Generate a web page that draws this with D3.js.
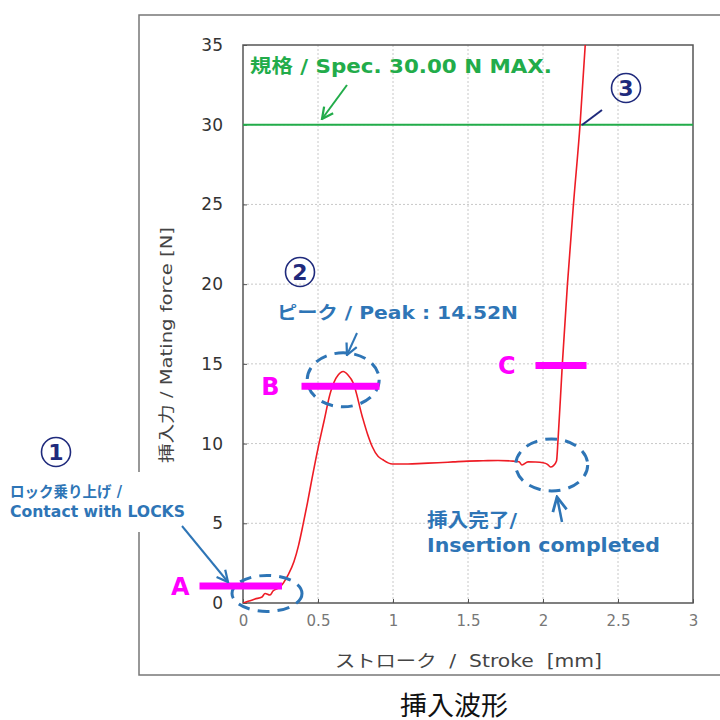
<!DOCTYPE html>
<html>
<head>
<meta charset="utf-8">
<script src="https://cdn.jsdelivr.net/npm/d3@7"></script>
<style>
  body { margin: 0; background: #fff; }
  text { font-family: "DejaVu Sans", "Noto Sans CJK JP", sans-serif; }
</style>
</head>
<body>
<div id="chart"></div>
<script>
// insertion waveform: stroke [mm] vs mating force [N]
const stroke = [0, 0.04, 0.08, 0.127, 0.147, 0.18, 0.2, 0.247, 0.3, 0.34, 0.37, 0.4, 0.43, 0.46, 0.5, 0.54, 0.58, 0.62, 0.65, 0.668, 0.7, 0.735, 0.795, 0.83, 0.862, 0.9, 0.93, 0.995, 1.1, 1.2, 1.3, 1.4, 1.5, 1.6, 1.7, 1.8, 1.84, 1.86, 1.9, 1.95, 2.0, 2.03, 2.05, 2.07, 2.09, 2.1, 2.129, 2.163, 2.203, 2.247, 2.285];
const force  = [0, 0.12, 0.25, 0.38, 0.6, 0.5, 0.75, 1.0, 1.75, 2.6, 3.6, 4.9, 6.3, 7.8, 9.7, 11.4, 13.1, 14.1, 14.45, 14.52, 14.3, 13.8, 11.7, 10.6, 9.8, 9.2, 9.0, 8.72, 8.72, 8.76, 8.8, 8.85, 8.9, 8.92, 8.94, 8.9, 8.86, 8.66, 8.85, 8.84, 8.8, 8.7, 8.53, 8.62, 8.9, 10.2, 15, 20, 25, 30, 35.5];

const xTicks = [0, 0.5, 1, 1.5, 2, 2.5, 3];
const yTicks = [0, 5, 10, 15, 20, 25, 30, 35];
const specLimit = 30;

// check points A / B / C
const markerNames = ["A", "B", "C"];
const markerForce = [1.07, 13.6, 14.9];
const markerFrom = [-0.29, 0.39, 1.95];
const markerTo = [0.26, 0.91, 2.29];

// dashed circles (center in data units)
const ringStroke = [0.16, 0.668, 2.058];
const ringForce = [0.6, 14.0, 8.66];

const w = 720, h = 720;
const blue = "#2e75b6", navy = "#1f2a7c", green = "#22ac4a", magenta = "#ff00ff";

const xScale = d3.scaleLinear().domain([0, 3]).range([243, 693]);
const yScale = d3.scaleLinear().domain([0, 35]).range([603, 45]);

const svg = d3.select("#chart").append("svg")
  .attr("width", w).attr("height", h);

const defs = svg.append("defs");
defs.append("clipPath").attr("id", "plotClip")
  .append("rect").attr("x", 243).attr("y", 45).attr("width", 450).attr("height", 558);
function arrowHead(id, color) {
  defs.append("marker").attr("id", id)
    .attr("viewBox", "0 0 10 10").attr("refX", 9).attr("refY", 5)
    .attr("markerWidth", 7).attr("markerHeight", 7).attr("orient", "auto")
    .append("path").attr("d", "M1,1 L9,5 L1,9")
    .attr("fill", "none").attr("stroke", color).attr("stroke-width", 1.6);
}
arrowHead("arrGreen", green);
arrowHead("arrBlue", blue);

// fixed-width text helper
function label(x, y, size, color, str, len) {
  const t = svg.append("text").attr("x", x).attr("y", y)
    .attr("font-size", size).attr("font-weight", "bold").attr("fill", color).text(str);
  if (len) t.attr("textLength", len).attr("lengthAdjust", "spacingAndGlyphs");
  return t;
}

// outer frame
svg.append("rect").attr("x", 139).attr("y", 15).attr("width", 600).attr("height", 660)
  .attr("fill", "none").attr("stroke", "#777").attr("stroke-width", 1.5);

// grid
svg.append("g").selectAll("line").data(xTicks.slice(1, -1)).enter().append("line")
  .attr("x1", d => xScale(d)).attr("x2", d => xScale(d))
  .attr("y1", yScale(0)).attr("y2", yScale(35))
  .attr("stroke", "#c8c8c8").attr("stroke-dasharray", "2,2");
svg.append("g").selectAll("line").data(yTicks.slice(1, -1)).enter().append("line")
  .attr("x1", xScale(0)).attr("x2", xScale(3))
  .attr("y1", d => yScale(d)).attr("y2", d => yScale(d))
  .attr("stroke", "#c8c8c8").attr("stroke-dasharray", "2,2");

// axes
const xAxis = d3.axisBottom(xScale).tickValues(xTicks).tickSize(-4).tickPadding(12).tickFormat(d3.format("~g"));
const yAxis = d3.axisLeft(yScale).tickValues(yTicks).tickSize(-4).tickPadding(20);
const gx = svg.append("g").attr("transform", "translate(0," + yScale(0) + ")").call(xAxis);
const gy = svg.append("g").attr("transform", "translate(" + xScale(0) + ",0)").call(yAxis);
gx.select(".domain").remove();
gy.select(".domain").remove();
gx.selectAll("line").attr("stroke", "#555");
gy.selectAll("line").attr("stroke", "#555");
gx.selectAll("text").attr("font-size", 15).attr("fill", "#777")
  .style("font-family", "'DejaVu Sans', sans-serif");
gy.selectAll("text").attr("font-size", 17).attr("fill", "#333")
  .style("font-family", "'DejaVu Sans', sans-serif");

svg.append("rect").attr("x", xScale(0)).attr("y", yScale(35))
  .attr("width", xScale(3) - xScale(0)).attr("height", yScale(0) - yScale(35))
  .attr("fill", "none").attr("stroke", "#555").attr("stroke-width", 1.5);

// spec limit
svg.append("line").attr("x1", xScale(0)).attr("x2", xScale(3))
  .attr("y1", yScale(specLimit)).attr("y2", yScale(specLimit))
  .attr("stroke", green).attr("stroke-width", 2);

// waveform
const line = d3.line().x((d, i) => xScale(stroke[i])).y(d => yScale(d)).curve(d3.curveMonotoneX);
svg.append("path").datum(force)
  .attr("clip-path", "url(#plotClip)")
  .attr("d", line).attr("fill", "none")
  .attr("stroke", "#ee1c25").attr("stroke-width", 1.6);

// axis titles
svg.append("text").attr("x", 335).attr("y", 667)
  .attr("font-size", 17).attr("fill", "#444").style("white-space", "pre")
  .attr("textLength", 267).attr("lengthAdjust", "spacingAndGlyphs")
  .text("ストローク  /  Stroke  [mm]");
svg.append("text").attr("transform", "translate(172,463) rotate(-90)")
  .attr("font-size", 16).attr("fill", "#444")
  .attr("textLength", 236).attr("lengthAdjust", "spacingAndGlyphs")
  .text("挿入力 / Mating force [N]");

// caption
svg.append("text").attr("x", 400).attr("y", 715)
  .attr("font-size", 26).attr("fill", "#111")
  .attr("textLength", 108).attr("lengthAdjust", "spacingAndGlyphs").text("挿入波形");

// dashed rings
const ringRx = [35, 36, 36], ringRy = [18, 27, 26];
svg.append("g").selectAll("ellipse").data(ringStroke).enter().append("ellipse")
  .attr("cx", (d, i) => xScale(d)).attr("cy", (d, i) => yScale(ringForce[i]))
  .attr("rx", (d, i) => ringRx[i]).attr("ry", (d, i) => ringRy[i])
  .attr("fill", "none").attr("stroke", blue).attr("stroke-width", 3)
  .attr("stroke-dasharray", "12,8");

// magenta check bars + letters
const letterGap = [10, 22, 20];
svg.append("g").selectAll("line").data(markerForce).enter().append("line")
  .attr("x1", (d, i) => xScale(markerFrom[i])).attr("x2", (d, i) => xScale(markerTo[i]))
  .attr("y1", d => yScale(d)).attr("y2", d => yScale(d))
  .attr("stroke", magenta).attr("stroke-width", 7);
svg.append("g").selectAll("text").data(markerNames).enter().append("text")
  .attr("x", (d, i) => xScale(markerFrom[i]) - letterGap[i])
  .attr("y", (d, i) => yScale(markerForce[i]) + 9)
  .attr("text-anchor", "end").attr("font-size", 24).attr("font-weight", "bold")
  .attr("fill", magenta).text(d => d);

// spec annotation
label(250, 73, 19, green, "規格 / Spec. 30.00 N MAX.", 302);
svg.append("line").attr("x1", 347).attr("y1", 85).attr("x2", 322).attr("y2", 119)
  .attr("stroke", green).attr("stroke-width", 2).attr("marker-end", "url(#arrGreen)");

// locks annotation (covers frame edge)
svg.append("rect").attr("x", 5).attr("y", 472).attr("width", 185).attr("height", 60).attr("fill", "#fff");
label(10, 497, 15, blue, "ロック乗り上げ /", 112);
label(10, 517, 15, blue, "Contact with LOCKS", 175);
svg.append("line").attr("x1", 182).attr("y1", 526).attr("x2", 228).attr("y2", 582)
  .attr("stroke", blue).attr("stroke-width", 2).attr("marker-end", "url(#arrBlue)");

// peak annotation
label(277, 319, 18, blue, "ピーク / Peak : 14.52N", 241);
svg.append("line").attr("x1", 357).attr("y1", 333).attr("x2", 347).attr("y2", 355)
  .attr("stroke", blue).attr("stroke-width", 2).attr("marker-end", "url(#arrBlue)");

// insertion completed annotation
label(427, 527, 19, blue, "挿入完了/", 90);
label(427, 552, 19, blue, "Insertion completed", 233);
svg.append("line").attr("x1", 562).attr("y1", 522).attr("x2", 557).attr("y2", 497)
  .attr("stroke", blue).attr("stroke-width", 2.5).attr("marker-end", "url(#arrBlue)");

// circled numbers
const circNums = ["1", "2", "3"];
const circX = [56, 300, 626], circY = [452, 272, 88];
const cg = svg.append("g").selectAll("g").data(circNums).enter().append("g")
  .attr("transform", (d, i) => "translate(" + circX[i] + "," + circY[i] + ")");
cg.append("circle").attr("r", 14.5).attr("fill", "none").attr("stroke", navy).attr("stroke-width", 1.6);
cg.append("text").attr("text-anchor", "middle").attr("y", 8).attr("font-size", 22)
  .attr("font-weight", "bold").attr("fill", navy).text(d => d);
svg.append("line").attr("x1", 582).attr("y1", 125).attr("x2", 602).attr("y2", 110)
  .attr("stroke", navy).attr("stroke-width", 2);
</script>
</body>
</html>
